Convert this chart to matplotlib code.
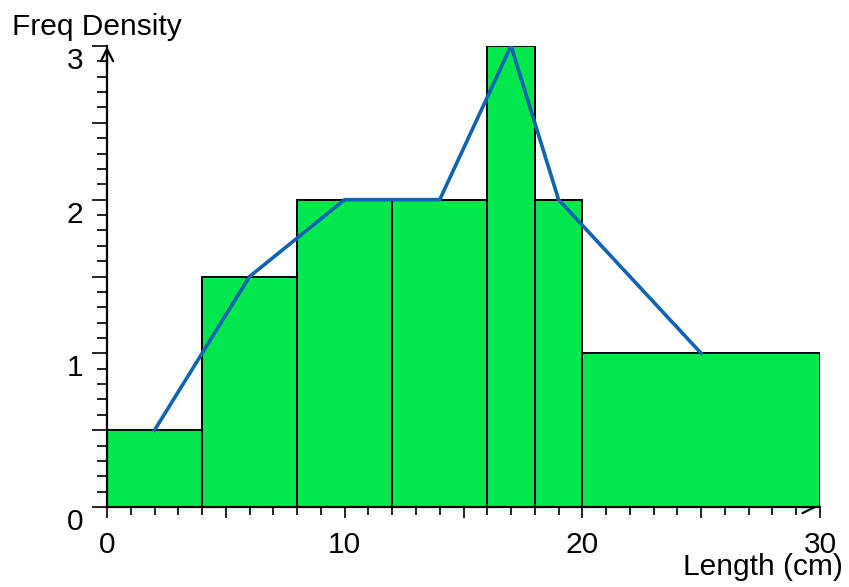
import matplotlib.pyplot as plt
import numpy as np

plt.rcParams['font.family'] = ['Liberation Sans', 'DejaVu Sans']

# class boundaries and frequency densities
edges = [0, 4, 8, 12, 16, 18, 20, 30]
density = [0.5, 1.5, 2, 2, 3, 2, 1]

# frequency polygon through the class midpoints
mids = [2, 6, 10, 14, 17, 19, 25]
poly = [0.5, 1.5, 2, 2, 3, 2, 1]

xlabels = [0, 10, 20, 30]
ylabels = [0, 1, 2, 3]

fig = plt.figure(figsize=(8.49, 5.87), dpi=100)
ax = fig.add_axes([107 / 849, 80 / 587, 713 / 849, 461 / 587])

widths = np.diff(edges)
ax.bar(edges[:-1], density, width=widths, align='edge', color='#02E74C',
       edgecolor='black', linewidth=1.4, zorder=2)
ax.plot(mids, poly, color='#0F63B3', linewidth=2.6, zorder=3)

ax.set_xlim(0, 30)
ax.set_ylim(0, 3)

for s in ['top', 'right']:
    ax.spines[s].set_visible(False)
for s in ['left', 'bottom']:
    ax.spines[s].set_linewidth(1.6)
    ax.spines[s].set_zorder(4)

# ticks: x every 1 (longer every 5), y every 0.1 (longer every 0.5)
ax.set_xticks(np.arange(0, 31, 5))
ax.set_xticks(np.arange(0, 31, 1), minor=True)
ax.set_yticks(np.arange(0, 3.01, 0.5))
ax.set_yticks(np.arange(0, 3.01, 0.1), minor=True)
ax.tick_params(axis='x', which='major', length=8, width=1.2, direction='out', labelbottom=False)
ax.tick_params(axis='x', which='minor', length=5.8, width=1.2, direction='out')
ax.tick_params(axis='y', which='major', length=10.8, width=1.2, direction='out', labelleft=False)
ax.tick_params(axis='y', which='minor', length=7.2, width=1.2, direction='out')

fs = 21.5
for v in xlabels:
    ax.annotate(str(v), xy=(v, 0), xycoords=('data', 'axes fraction'),
                xytext=(0, -24), textcoords='offset pixels',
                ha='center', va='top', fontsize=fs)
for v in ylabels:
    ax.annotate(str(v), xy=(0, v), xycoords=('axes fraction', 'data'),
                xytext=(-24, -15), textcoords='offset pixels',
                ha='right', va='center', fontsize=fs)

# axis arrows
ax.annotate('', xy=(0, 1.005), xycoords='axes fraction', xytext=(0, 0.95),
            arrowprops=dict(arrowstyle='->', lw=1.6, mutation_scale=22, color='black'),
            annotation_clip=False)
ax.annotate('', xy=(1.0, 0), xycoords='axes fraction', xytext=(0.97, 0),
            arrowprops=dict(arrowstyle='->', lw=1.6, mutation_scale=22, color='black'),
            annotation_clip=False, zorder=1)

fig.text(12 / 849, 1 - 35 / 587, 'Freq Density', fontsize=fs, ha='left', va='baseline')
fig.text(843 / 849, 1 - 575 / 587, 'Length (cm)', fontsize=fs, ha='right', va='baseline')

fig.savefig('out.png', dpi=100)
